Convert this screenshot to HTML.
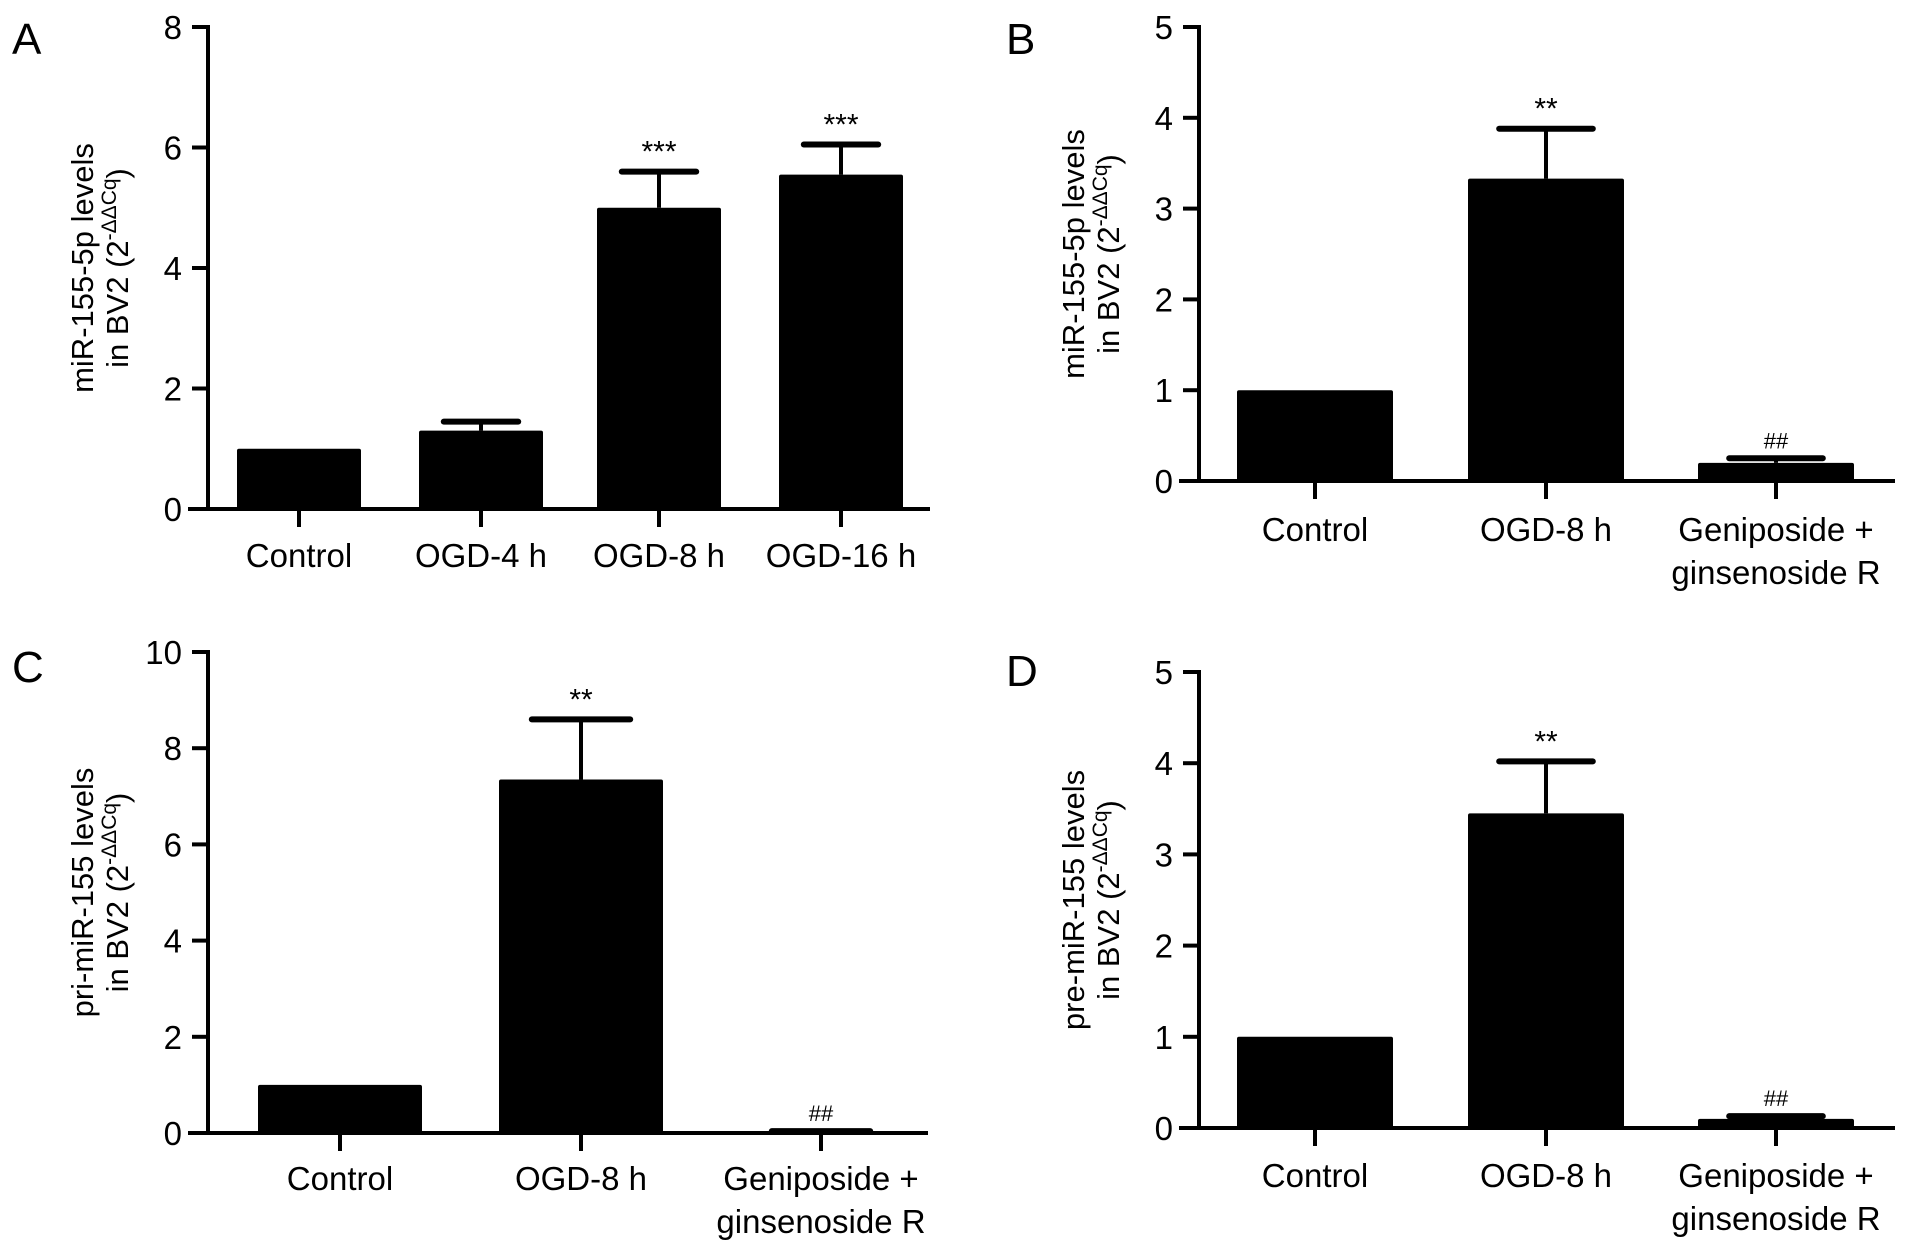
<!DOCTYPE html>
<html><head><meta charset="utf-8">
<style>
html,body{margin:0;padding:0;background:#fff;}
svg{display:block;font-family:"Liberation Sans",Arial,sans-serif;}
</style></head>
<body>
<svg id="fig" width="1913" height="1249" viewBox="0 0 1913 1249"></svg>
<script>
// Panel A data
const catsA = ["Control","OGD-4 h","OGD-8 h","OGD-16 h"];
const valsA = [1.0, 1.3, 5.0, 5.55];
const errA = [0, 0.15, 0.6, 0.5];
const sigA = ["", "", "***", "***"];
const ticksA = [0,2,4,6,8];
// Panel B data
const catsB = [["Control"],["OGD-8 h"],["Geniposide +","ginsenoside R"]];
const valsB = [1.0, 3.33, 0.2];
const errB = [0, 0.55, 0.05];
const sigB = ["", "**", "##"];
const ticksB = [0,1,2,3,4,5];
// Panel C data
const catsC = [["Control"],["OGD-8 h"],["Geniposide +","ginsenoside R"]];
const valsC = [1.0, 7.35, 0.03];
const errC = [0, 1.25, 0.01];
const sigC = ["", "**", "##"];
const ticksC = [0,2,4,6,8,10];
// Panel D data
const catsD = [["Control"],["OGD-8 h"],["Geniposide +","ginsenoside R"]];
const valsD = [1.0, 3.45, 0.1];
const errD = [0, 0.57, 0.03];
const sigD = ["", "**", "##"];
const ticksD = [0,1,2,3,4,5];

const NS="http://www.w3.org/2000/svg";
const svg=document.getElementById('fig');
function mk(tag,attrs,parent){const e=document.createElementNS(NS,tag);for(const k in attrs)e.setAttribute(k,attrs[k]);(parent||svg).appendChild(e);return e;}

function panel(cfg){
  const g=mk('g',{});
  
  
  const {ax,y0,yTop,xEnd,ymax,cats,vals,errs,sigs,ticks,barL,barW,lab1,lab2}=cfg;
  const yS=v=>y0-(y0-yTop)*v/ymax;
  const L=mk('text',{x:cfg.letterX,y:cfg.letterY,'font-size':44},g);L.textContent=cfg.id;
  
  
  const ya=mk('line',{x1:ax,y1:yTop-2,x2:ax,y2:y0+2,stroke:'#000','stroke-width':4},g);
  
  
  const xa=mk('line',{x1:ax-20,y1:y0,x2:xEnd,y2:y0,stroke:'#000','stroke-width':4},g);
  
  
  ticks.forEach(t=>{
    mk('line',{x1:ax-16,y1:yS(t),x2:ax,y2:yS(t),stroke:'#000','stroke-width':4},g);
    const tx=mk('text',{x:ax-26,y:yS(t)+12,'font-size':33,'text-anchor':'end'},g);tx.textContent=t;
    
    
  });
  cats.forEach((c,i)=>{
    const x=barL[i], cx=x+barW/2, v=vals[i], top=yS(v);
    const r=mk('rect',{x:x,y:top,width:barW,height:y0-top,fill:'#000',rx:2},g);
    
    
    if(errs[i]>0){
      const et=yS(v+errs[i]);
      mk('line',{x1:cx,y1:top,x2:cx,y2:et,stroke:'#000','stroke-width':4},g);
      mk('line',{x1:cx-barW*0.3,y1:et,x2:cx+barW*0.3,y2:et,stroke:'#000','stroke-width':6,'stroke-linecap':'round'},g);
    }
    if(sigs[i]){
      const st=mk('text',{x:cx,y:yS(v+errs[i])-10,'font-size':sigs[i][0]=='#'?22:30,'text-anchor':'middle'},g);
      st.textContent=sigs[i];
      
      
    }
    mk('line',{x1:cx,y1:y0,x2:cx,y2:y0+18,stroke:'#000','stroke-width':4},g);
    const lines=Array.isArray(c)?c:[c];
    lines.forEach((ln,j)=>{
      const t=mk('text',{x:cx,y:cfg.labY+j*43,'font-size':33,'text-anchor':'middle'},g);t.textContent=ln;
      
      
    });
  });
  const yc=(y0+yTop)/2;
  const yl=mk('text',{transform:`translate(${cfg.ylx},${yc}) rotate(-90)`,'font-size':31,'text-anchor':'middle'},g);
  
  
  const t1=mk('tspan',{x:0,y:0},yl);t1.textContent=lab1;
  const t2=mk('tspan',{x:0,y:35},yl);t2.textContent=lab2+' (2';
  const t3=mk('tspan',{dy:-12,'font-size':21},yl);t3.textContent='-ΔΔCq';
  const t4=mk('tspan',{dy:12},yl);t4.textContent=')';
}
const bx3=[1237,1468,1698], bw3=156;
panel({id:'A',letterX:12,letterY:54,ax:208,y0:509,yTop:27,xEnd:930,ymax:8,cats:catsA,vals:valsA,errs:errA,sigs:sigA,ticks:ticksA,barL:[237,419,597,779],barW:124,labY:567,ylx:93,lab1:'miR-155-5p levels',lab2:'in BV2'});
panel({id:'B',letterX:1006,letterY:54,ax:1199,y0:481,yTop:27,xEnd:1895,ymax:5,cats:catsB,vals:valsB,errs:errB,sigs:sigB,ticks:ticksB,barL:bx3,barW:bw3,labY:541,ylx:1084,lab1:'miR-155-5p levels',lab2:'in BV2'});
panel({id:'C',letterX:12,letterY:682,ax:208,y0:1133,yTop:652,xEnd:928,ymax:10,cats:catsC,vals:valsC,errs:errC,sigs:sigC,ticks:ticksC,barL:[258,499,739],barW:164,labY:1190,ylx:93,lab1:'pri-miR-155 levels',lab2:'in BV2'});
panel({id:'D',letterX:1006,letterY:686,ax:1199,y0:1128,yTop:672,xEnd:1895,ymax:5,cats:catsD,vals:valsD,errs:errD,sigs:sigD,ticks:ticksD,barL:bx3,barW:bw3,labY:1187,ylx:1084,lab1:'pre-miR-155 levels',lab2:'in BV2'});
</script>
</body></html>
